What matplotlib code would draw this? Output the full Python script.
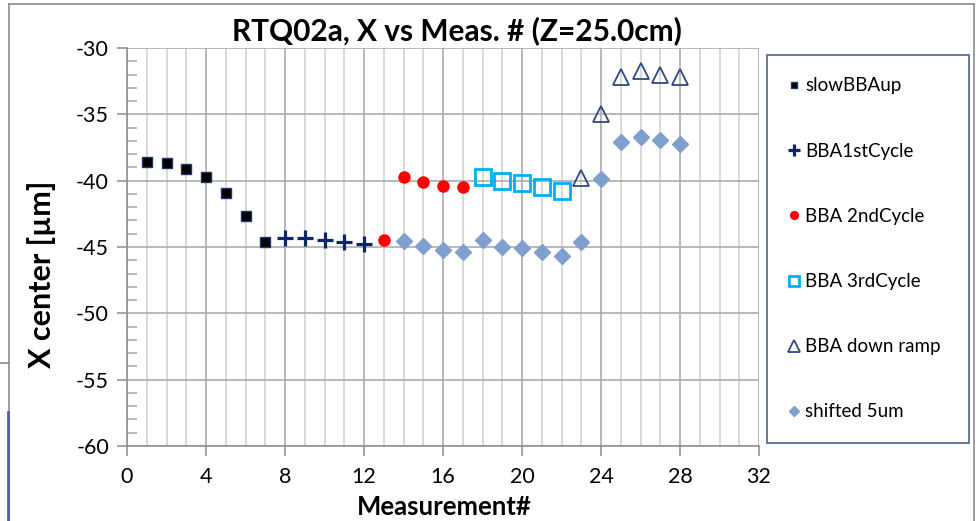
import matplotlib
matplotlib.use("Agg")
import matplotlib.pyplot as plt
from matplotlib.lines import Line2D
from matplotlib.ticker import MultipleLocator

plt.rcParams['font.family'] = ['Lato', 'DejaVu Sans']
plt.rcParams['axes.unicode_minus'] = False

# ---- data ----
x_slow = [1, 2, 3, 4, 5, 6, 7]
y_slow = [-38.6, -38.7, -39.1, -39.7, -40.9, -42.7, -44.6]

x_c1 = [8, 9, 10, 11, 12]
y_c1 = [-44.3, -44.3, -44.5, -44.6, -44.75]

x_c2 = [13, 14, 15, 16, 17]
y_c2 = [-44.5, -39.75, -40.1, -40.4, -40.5]

x_c3 = [18, 19, 20, 21, 22]
y_c3 = [-39.7, -40.05, -40.2, -40.5, -40.8]

x_down = [23, 24, 25, 26, 27, 28]
y_down = [-39.8, -35.0, -32.2, -31.75, -32.0, -32.2]

x_shift = [14, 15, 16, 17, 18, 19, 20, 21, 22, 23, 24, 25, 26, 27, 28]
y_shift = [-44.55, -44.9, -45.2, -45.4, -44.5, -45.0, -45.05, -45.4, -45.7,
           -44.65, -39.9, -37.1, -36.7, -36.95, -37.2]

labels = ["slowBBAup", "BBA1stCycle", "BBA 2ndCycle", "BBA 3rdCycle",
          "BBA down ramp", "shifted 5um"]
xticks = [0, 4, 8, 12, 16, 20, 24, 28, 32]
yticks = [-60, -55, -50, -45, -40, -35, -30]

W, H = 976, 521
fig = plt.figure(figsize=(W / 100, H / 100), dpi=100)
ax = fig.add_axes([127 / W, 1 - 446 / H, (759 - 127) / W, (446 - 48) / H])

navy = '#1F3864'
ax.plot(x_slow, y_slow, ls='none', marker='s', ms=6.6, mfc='black', mec=navy, mew=1,
        label=labels[0], zorder=5)
ax.plot(x_c1, y_c1, ls='none', marker='+', ms=12, mec='#0B2766', mew=2.3,
        label=labels[1], zorder=5)
ax.plot(x_c2, y_c2, ls='none', marker='o', ms=8, mfc='#FF0000', mec='#FF0000',
        label=labels[2], zorder=5)
ax.plot(x_c3, y_c3, ls='none', marker='s', ms=11, mfc='none', mec='#00B0F0', mew=2,
        label=labels[3], zorder=5)
ax.plot(x_down, y_down, ls='none', marker='^', ms=12, mfc='none', mec='#2F4A80', mew=1.3,
        label=labels[4], zorder=5)
ax.plot(x_shift, y_shift, ls='none', marker='D', ms=8, mfc='#7F9FCE', mec='#7F9FCE',
        label=labels[5], zorder=4)

ax.set_xlim(0, 32)
ax.set_ylim(-60, -30)
ax.set_xticks(xticks)
ax.set_yticks(yticks)
ax.xaxis.set_minor_locator(MultipleLocator(1))
ax.yaxis.set_minor_locator(MultipleLocator(1))

ax.grid(which='major', axis='x', color='#A6A6A6', lw=1.1)
ax.grid(which='minor', axis='x', color='#D0D0D0', lw=1.1)
ax.grid(which='major', axis='y', color='#A6A6A6', lw=1.1)
ax.set_axisbelow(True)

for s in ['top', 'right']:
    ax.spines[s].set_visible(False)
for s in ['left', 'bottom']:
    ax.spines[s].set_color('#8C8C8C')
    ax.spines[s].set_linewidth(1.1)

ax.tick_params(axis='both', which='major', direction='out', length=7, width=1.1,
               color='#8C8C8C', labelsize=15.5, labelcolor='black')
ax.tick_params(axis='x', which='major', pad=8)
ax.tick_params(axis='y', which='major', pad=6)
ax.tick_params(axis='x', which='minor', length=0)
ax.tick_params(axis='y', which='minor', direction='in', length=7, width=1.1,
               color='#A6A6A6')

fig.text(457 / W, 1 - 31 / H, "RTQ02a, X vs Meas. # (Z=25.0cm)", ha='center',
         va='center', fontsize=21.5, fontweight='bold')
fig.text(42 / W, 1 - 274 / H, "X center [µm]", ha='center', va='center',
         rotation=90, fontsize=22, fontweight='bold')
fig.text(444 / W, 1 - 507 / H, "Measurement#", ha='center', va='center',
         fontsize=18.5, fontweight='bold')

leg = fig.legend(loc='upper left',
                 bbox_to_anchor=(767 / W, 1 - 441 / H, 202 / W, 386 / H),
                 mode='expand', borderaxespad=0, fontsize=13.5, markerscale=0.7,
                 labelspacing=2.57, borderpad=1.2, handlelength=0.5,
                 handletextpad=0.35, fancybox=False, frameon=True)
leg.get_frame().set_edgecolor('#2F4A80')
leg.get_frame().set_linewidth(1.3)

# outer chart frame (screenshot edges)
def fline(xs, ys, color='#8C8C8C', lw=1.2):
    fig.add_artist(Line2D([v / W for v in xs], [1 - v / H for v in ys],
                          color=color, lw=lw, transform=fig.transFigure))

fline([9, 974], [4, 4])
fline([9, 9], [4, 521])
fline([974, 974], [4, 521])
fline([0, 9], [363, 363])
fline([8, 8], [412, 521], color='#4A63A0', lw=2)

fig.savefig('out.png', dpi=100)
